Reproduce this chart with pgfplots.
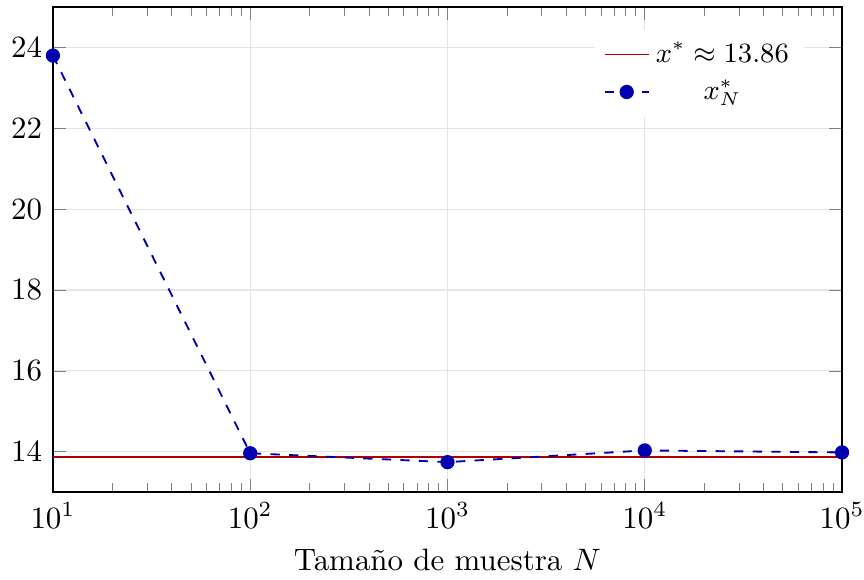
\documentclass[border=0pt]{standalone}
\usepackage{pgfplots}
\pgfplotsset{compat=1.18}
\begin{document}
\begin{tikzpicture}
\begin{semilogxaxis}[
  scale only axis,
  width=255pt, height=156.7pt,
  xmin=10, xmax=1e5,
  ymin=13, ymax=25,
  ytick={14,16,18,20,22,24},
  grid=major,
  major grid style={gray!20},
  xlabel={Tamaño de muestra $N$},
  legend style={draw=none, fill=white, at={(0.953,0.955)}, anchor=north east, font=\small},
  legend cell align=center,
  legend image code/.code={\draw[mark repeat=2,mark phase=2,#1] plot coordinates {(0cm,0cm) (0.25cm,0cm) (0.5cm,0cm)};},
]
\addplot[red!70!black, semithick] coordinates {(10,13.86) (1e5,13.86)};
\addlegendentry{$x^*\approx 13.86$}
\addplot[blue!70!black, semithick, dashed, mark=*, mark options={solid}] coordinates {
(10,23.80) (100,13.96) (1000,13.74) (10000,14.03) (100000,13.98)};
\addlegendentry{$x^*_N$}
\end{semilogxaxis}
\pgfresetboundingbox
\path[use as bounding box] ([shift={(-17.1pt,-28.4pt)}]current axis.south west) rectangle ([shift={(7.1pt,2.3pt)}]current axis.north east);
\end{tikzpicture}
\end{document}
